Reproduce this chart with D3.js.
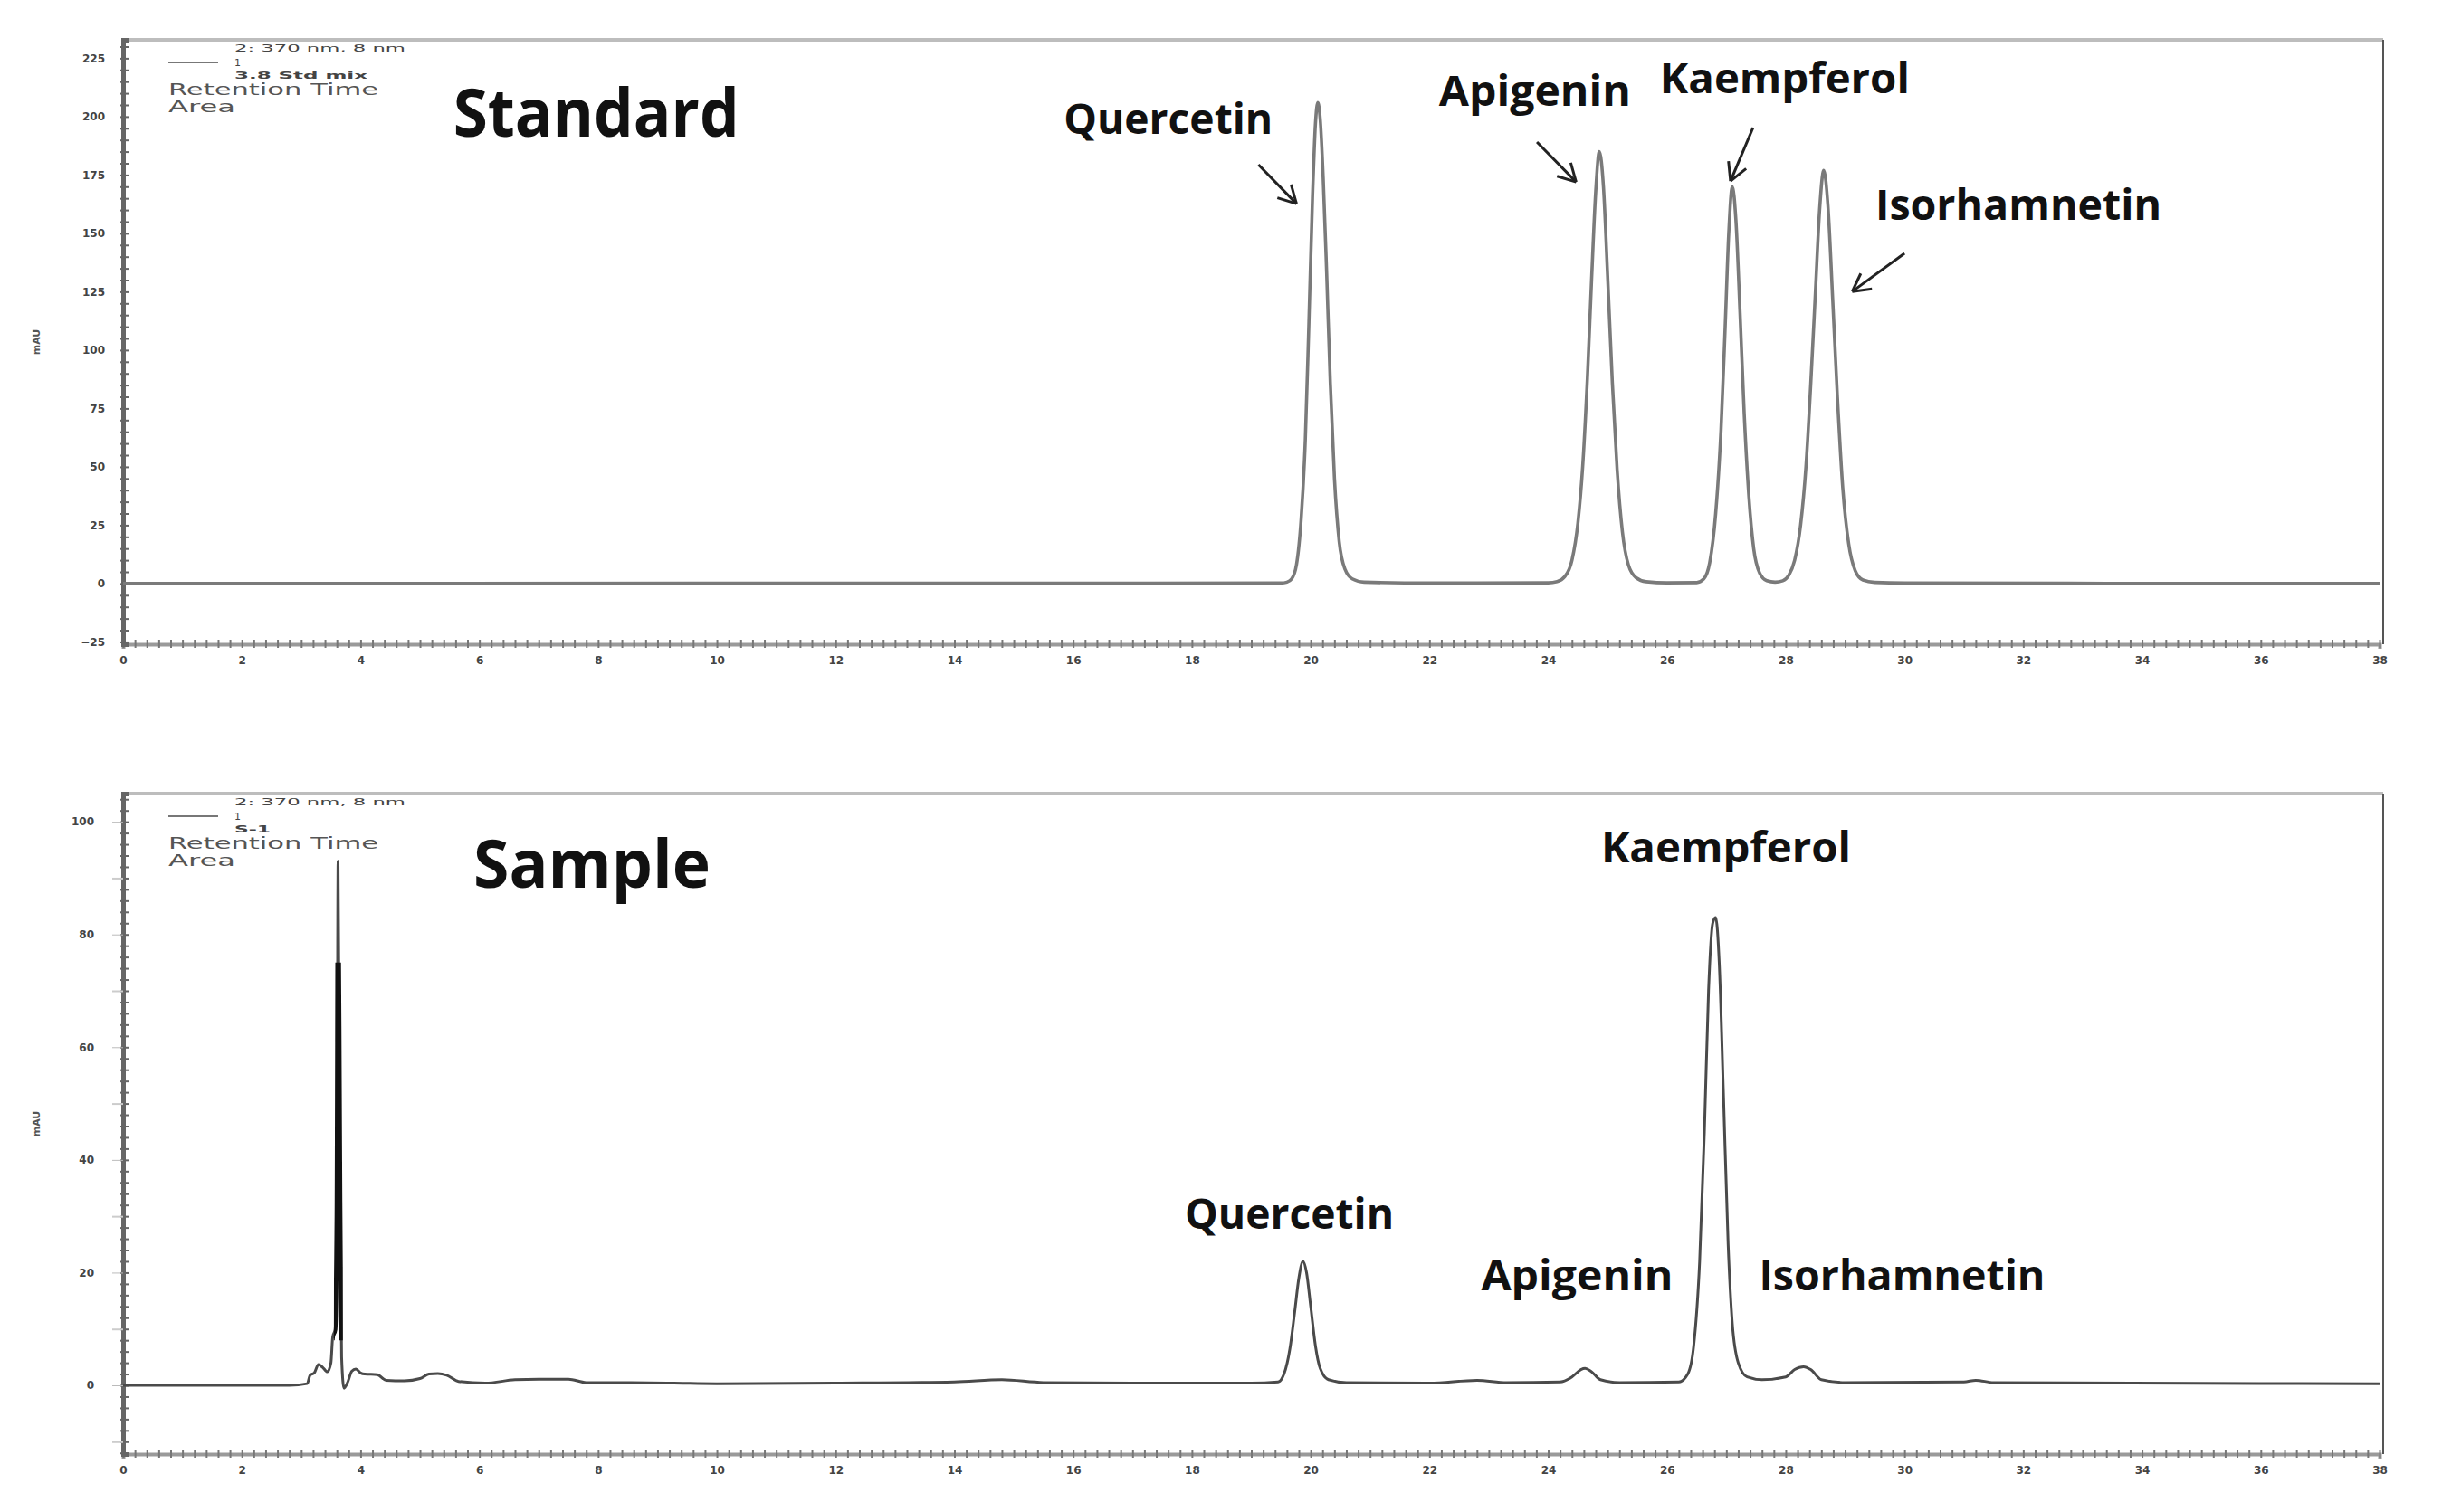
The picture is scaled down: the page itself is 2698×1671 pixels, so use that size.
<!DOCTYPE html>
<html>
<head>
<meta charset="utf-8">
<script src="https://cdn.jsdelivr.net/npm/d3@7"></script>
<style>
  body { margin: 0; background: #fff; }
  svg { display: block; }
  .tick text { font-family: "DejaVu Sans", sans-serif; fill: #444; }
</style>
</head>
<body>
<svg id="chart" width="2698" height="1671"></svg>
<script>
// retention time (min), signal (mAU)
const standardTrace = [
  [0, 0], [10, 0.1], [19.5, 0.2], [19.6, 0.6], [19.68, 2], [19.76, 8], [19.84, 28], [19.91, 62],
  [19.97, 112], [20.03, 165], [20.08, 197], [20.12, 206], [20.16, 199], [20.21, 174], [20.27, 132],
  [20.33, 86], [20.4, 45], [20.48, 18], [20.58, 6], [20.7, 2], [20.9, 0.6], [22, 0.2], [24, 0.3],
  [24.15, 0.8], [24.28, 3], [24.4, 10], [24.5, 26], [24.58, 50], [24.66, 88], [24.73, 130],
  [24.8, 168], [24.86, 185], [24.93, 170], [25.0, 132], [25.08, 86], [25.16, 49], [25.25, 22],
  [25.35, 8], [25.48, 2.5], [25.65, 0.8], [26.0, 0.3], [26.5, 0.4], [26.62, 2], [26.72, 9],
  [26.82, 30], [26.91, 66], [26.98, 110], [27.04, 150], [27.1, 170], [27.16, 156], [27.23, 116],
  [27.3, 73], [27.38, 37], [27.46, 15], [27.56, 4.5], [27.68, 1.2], [27.82, 0.6], [27.95, 1.2],
  [28.05, 3.5], [28.15, 10], [28.25, 25], [28.34, 50], [28.42, 85], [28.5, 125], [28.57, 160],
  [28.64, 177], [28.71, 162], [28.79, 122], [28.87, 80], [28.96, 41], [29.06, 17], [29.17, 5.5],
  [29.3, 1.5], [29.5, 0.5], [30, 0.2], [38, 0]
];

const sampleTrace = [
  [0, 0], [2.8, 0], [3.1, 0.3], [3.15, 1.8], [3.22, 2.2], [3.29, 3.7], [3.36, 3.2], [3.44, 2.4],
  [3.5, 4], [3.53, 8.6], [3.57, 9.9], [3.6, 30], [3.62, 93], [3.65, 40], [3.68, 5], [3.72, -0.5],
  [3.78, 0.5], [3.85, 2.5], [3.92, 2.9], [4.0, 2.2], [4.07, 2], [4.28, 1.9], [4.43, 0.9],
  [4.74, 0.8], [5.0, 1.2], [5.15, 2], [5.3, 2.1], [5.45, 1.8], [5.65, 0.7], [6.1, 0.4], [6.6, 1.0],
  [7.0, 1.1], [7.5, 1.1], [7.8, 0.5], [8.55, 0.5], [10, 0.3], [12, 0.4], [14, 0.6], [14.8, 1.0],
  [15.5, 0.5], [17, 0.4], [19, 0.4], [19.45, 0.6], [19.55, 2], [19.65, 6.5], [19.73, 13],
  [19.8, 19], [19.87, 22], [19.93, 20], [20.0, 14], [20.08, 7], [20.16, 3], [20.3, 1], [20.6, 0.5],
  [22, 0.4], [22.8, 0.9], [23.3, 0.5], [24.2, 0.6], [24.4, 1.5], [24.55, 2.8], [24.62, 3],
  [24.72, 2.5], [24.88, 1], [25.2, 0.5], [26.2, 0.6], [26.35, 2], [26.45, 7], [26.55, 22],
  [26.63, 45], [26.7, 70], [26.77, 82], [26.82, 83], [26.88, 75], [26.95, 52], [27.03, 25],
  [27.1, 11], [27.2, 4], [27.35, 1.5], [27.6, 1], [28.0, 1.5], [28.15, 2.8], [28.3, 3.3],
  [28.42, 2.8], [28.6, 1], [29, 0.5], [31, 0.6], [31.2, 0.9], [31.5, 0.5], [38, 0.3]
];

const compounds = ["Quercetin", "Apigenin", "Kaempferol", "Isorhamnetin"];
const panelTitles = ["Standard", "Sample"];
const xTicks = [0, 2, 4, 6, 8, 10, 12, 14, 16, 18, 20, 22, 24, 26, 28, 30, 32, 34, 36, 38];
const yTicksStandard = [-25, 0, 25, 50, 75, 100, 125, 150, 175, 200, 225];
const yTicksSample = [0, 20, 40, 60, 80, 100];
const legendLines = [
  ["2: 370 nm, 8 nm", "1", "3.8 Std mix"],
  ["2: 370 nm, 8 nm", "1", "S-1"]
];

const svg = d3.select("#chart");

function drawPanel(cfg) {
  const x = d3.scaleLinear().domain([0, 38]).range([cfg.left, cfg.right]);
  const y = d3.scaleLinear().domain(cfg.yDomain).range([cfg.bottom, cfg.top]);
  const g = svg.append("g");

  // frame: light top border, thin dark right border
  g.append("line")
      .attr("x1", cfg.left).attr("x2", cfg.right + 4)
      .attr("y1", cfg.top).attr("y2", cfg.top)
      .attr("stroke", "#bdbdbd").attr("stroke-width", 4);
  g.append("line")
      .attr("x1", cfg.right + 4).attr("x2", cfg.right + 4)
      .attr("y1", cfg.top).attr("y2", cfg.bottom)
      .attr("stroke", "#555").attr("stroke-width", 2);

  // x axis: dense minor ticks + labelled ticks every 2 min
  g.append("g")
      .attr("transform", "translate(0," + cfg.bottom + ")")
      .call(d3.axisBottom(x).tickValues(d3.range(0, 38.01, 0.2)).tickSize(5).tickFormat(""))
      .call(ax => ax.selectAll(".tick line").attr("stroke", "#777").attr("stroke-width", 2).attr("transform", "translate(0,-5)").attr("y2", 9))
      .call(ax => ax.select(".domain").attr("stroke", "#9a9a9a").attr("stroke-width", 4));
  g.append("g")
      .attr("transform", "translate(0," + cfg.bottom + ")")
      .call(d3.axisBottom(x).tickValues(xTicks).tickSize(0).tickPadding(13))
      .call(ax => ax.select(".domain").remove())
      .call(ax => ax.selectAll("text").attr("font-size", 12).attr("font-weight", "bold").attr("fill", "#555"));

  // y axis: dense inside ticks + labels
  g.append("g")
      .attr("transform", "translate(" + cfg.left + ",0)")
      .call(d3.axisLeft(y).tickValues(d3.range(Math.ceil(cfg.yDomain[0] / cfg.yMinor) * cfg.yMinor, cfg.yDomain[1], cfg.yMinor)).tickSize(-6).tickFormat(""))
      .call(ax => ax.selectAll(".tick line").attr("stroke", "#666").attr("stroke-width", 2).attr("x1", -3))
      .call(ax => ax.select(".domain").attr("stroke", "#666").attr("stroke-width", 5));
  g.append("g")
      .attr("transform", "translate(" + cfg.left + ",0)")
      .call(d3.axisLeft(y).tickValues(cfg.yTicks).tickSize(cfg.outerTick).tickPadding(20))
      .call(ax => ax.select(".domain").remove())
      .call(ax => ax.selectAll(".tick line").attr("stroke", "#bbb"))
      .call(ax => ax.selectAll("text").attr("font-size", 12).attr("font-weight", "bold").attr("fill", "#555"));
  if (cfg.midTicks) {
    g.append("g")
        .attr("transform", "translate(" + cfg.left + ",0)")
        .call(d3.axisLeft(y).tickValues(cfg.midTicks).tickSize(12).tickFormat(""))
        .call(ax => ax.select(".domain").remove())
        .call(ax => ax.selectAll(".tick line").attr("stroke", "#ccc").attr("stroke-width", 2));
  }

  g.append("text")
      .attr("transform", "translate(44," + (cfg.top + cfg.bottom) / 2 + ") rotate(-90)")
      .attr("text-anchor", "middle")
      .attr("font-family", "DejaVu Sans, sans-serif")
      .attr("font-size", 11)
      .attr("font-weight", "bold")
      .attr("fill", "#555")
      .text("mAU");

  // legend block in the upper left
  const lx = cfg.left + 50, ly = cfg.top;
  g.append("line")
      .attr("x1", lx).attr("x2", lx + 55)
      .attr("y1", ly + 25).attr("y2", ly + 25)
      .attr("stroke", "#777").attr("stroke-width", 2);
  const small = [[cfg.legend[0], 13, 189, "normal"], [cfg.legend[1], 29, null, "normal"], [cfg.legend[2], 43, cfg.legend[2].length > 4 ? 147 : 40, "bold"]];
  small.forEach(function(s) {
    const t = g.append("text")
        .attr("x", lx + 73).attr("y", ly + s[1])
        .attr("font-family", "DejaVu Sans, sans-serif")
        .attr("font-size", 11)
        .attr("font-weight", s[3])
        .attr("fill", "#444")
        .text(s[0]);
    if (s[2]) t.attr("textLength", s[2]).attr("lengthAdjust", "spacingAndGlyphs");
  });
  [["Retention Time", 61, 232], ["Area", 80, 74]].forEach(function(s) {
    g.append("text")
        .attr("x", lx).attr("y", ly + s[1])
        .attr("font-family", "DejaVu Sans, sans-serif")
        .attr("font-size", 17)
        .attr("fill", "#555")
        .attr("textLength", s[2]).attr("lengthAdjust", "spacingAndGlyphs")
        .text(s[0]);
  });

  const line = d3.line()
      .x(d => x(d[0]))
      .y(d => y(d[1]))
      .curve(d3.curveMonotoneX);
  g.append("path")
      .datum(cfg.trace)
      .attr("fill", "none")
      .attr("stroke", cfg.traceColor)
      .attr("stroke-width", cfg.traceWidth)
      .attr("stroke-linejoin", "round")
      .attr("d", line);

  // darker overdrawn stretch of the trace (integration marker look)
  if (cfg.darkBand) {
    const id = "clip" + cfg.top;
    g.append("clipPath").attr("id", id)
      .append("rect")
        .attr("x", x(cfg.darkBand[0])).attr("width", x(cfg.darkBand[1]) - x(cfg.darkBand[0]))
        .attr("y", y(cfg.darkBand[3])).attr("height", y(cfg.darkBand[2]) - y(cfg.darkBand[3]));
    g.append("path")
        .datum(cfg.trace)
        .attr("clip-path", "url(#" + id + ")")
        .attr("fill", "none")
        .attr("stroke", "#111")
        .attr("stroke-width", 5)
        .attr("d", line);
  }

  // big panel title
  g.append("text")
      .attr("x", x(cfg.title.t)).attr("y", y(cfg.title.v))
      .attr("font-family", "Open Sans, sans-serif")
      .attr("font-weight", "bold")
      .attr("font-size", 74)
      .attr("fill", "#111")
      .attr("textLength", cfg.title.w).attr("lengthAdjust", "spacingAndGlyphs")
      .text(cfg.title.text);

  cfg.labels.forEach(function(l, i) {
    g.append("text")
        .attr("x", x(l.t)).attr("y", y(l.v))
        .attr("font-family", "Open Sans, sans-serif")
        .attr("font-weight", "bold")
        .attr("font-size", 46)
        .attr("fill", "#111")
        .attr("textLength", l.w).attr("lengthAdjust", "spacingAndGlyphs")
        .text(compounds[i]);
    if (l.arrow) drawArrow(g, x(l.arrow[0]), y(l.arrow[1]), x(l.arrow[2]), y(l.arrow[3]));
  });
}

function drawArrow(g, x1, y1, x2, y2) {
  const a = Math.atan2(y2 - y1, x2 - x1);
  const h = 22, spread = 0.5;
  g.append("line")
      .attr("x1", x1).attr("y1", y1).attr("x2", x2).attr("y2", y2)
      .attr("stroke", "#222").attr("stroke-width", 3);
  [-spread, spread].forEach(function(s) {
    g.append("line")
        .attr("x1", x2).attr("y1", y2)
        .attr("x2", x2 - h * Math.cos(a + s)).attr("y2", y2 - h * Math.sin(a + s))
        .attr("stroke", "#222").attr("stroke-width", 3);
  });
}

drawPanel({
  left: 136, right: 2629, top: 44, bottom: 712,
  yDomain: [-26, 232.9], yTicks: yTicksStandard, yMinor: 5, outerTick: 0,
  trace: standardTrace, traceColor: "#7a7a7a", traceWidth: 3.6,
  legend: legendLines[0],
  title: { text: panelTitles[0], t: 5.56, v: 191.4, w: 316 },
  labels: [
    { t: 15.84, v: 192.6, w: 231, arrow: [19.12, 179.4, 19.76, 162.7] },
    { t: 22.16, v: 204.6, w: 212, arrow: [23.81, 189.1, 24.47, 172] },
    { t: 25.88, v: 210, w: 276, arrow: [27.45, 195.3, 27.07, 172.4] },
    { t: 29.51, v: 155.8, w: 316, arrow: [30.0, 141.4, 29.12, 125.1] }
  ]
});

drawPanel({
  left: 136, right: 2629, top: 877, bottom: 1607,
  yDomain: [-12.2, 105], yTicks: yTicksSample, yMinor: 2, outerTick: 12,
  midTicks: [-10, 10, 30, 50, 70, 90],
  trace: sampleTrace, traceColor: "#4a4a4a", traceWidth: 3,
  darkBand: [3.55, 3.7, 8, 75],
  legend: legendLines[1],
  title: { text: panelTitles[1], t: 5.9, v: 88.3, w: 262 },
  labels: [
    { t: 17.88, v: 27.8, w: 231 },
    { t: 22.87, v: 16.85, w: 212 },
    { t: 24.89, v: 92.8, w: 276 },
    { t: 27.55, v: 16.85, w: 316 }
  ]
});
</script>
</body>
</html>
